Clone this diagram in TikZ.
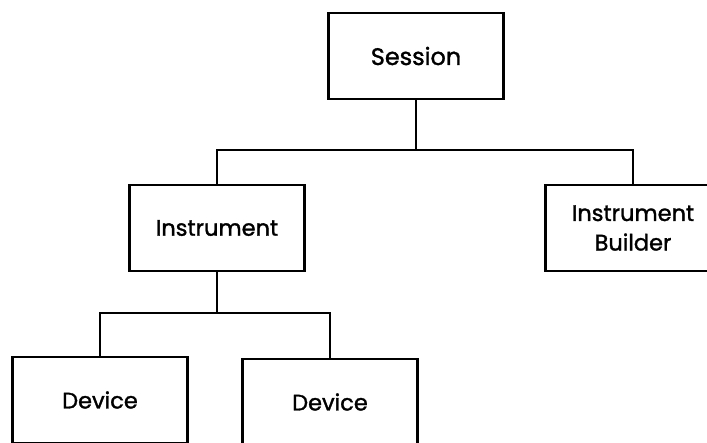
\documentclass[tikz,border=0pt]{standalone}
\usepackage{fontspec}
\newfontfamily\boxfont[FakeBold=1.4]{Poppins}

\begin{document}
\begin{tikzpicture}[x=0.025cm, y=-0.025cm, line width=1.6pt,
  box/.style={draw, rectangle, minimum width=4.375cm, minimum height=2.15cm,
    align=center, inner sep=0pt, font=\boxfont\fontsize{16}{21}\selectfont}]
  \clip (0,0) rectangle (707,442);

  \node[box, font=\boxfont\fontsize{17}{21}\selectfont] (session) at (416,56) {Session};

  \node[box] (instrument) at (217,228) {Instrument};
  \node[box] (builder) at (633,228) {Instrument\\Builder};

  \node[box] (devone) at (100,400) {Device};
  \node[box] (devtwo) at (330,402) {Device};

  % joints of the bars
  \coordinate (topleft) at (217,150);
  \coordinate (topmid) at (416,150);
  \coordinate (topright) at (633,150);
  \coordinate (lowleft) at (100,313);
  \coordinate (lowmid) at (217,313);
  \coordinate (lowright) at (330,313);

  \draw (session) -- (topmid);
  \draw (instrument) -- (topleft) -- (topright) -- (builder);
  \draw (instrument) -- (lowmid);
  \draw (devone) -- (lowleft) -- (lowright) -- (devtwo);
\end{tikzpicture}
\end{document}
